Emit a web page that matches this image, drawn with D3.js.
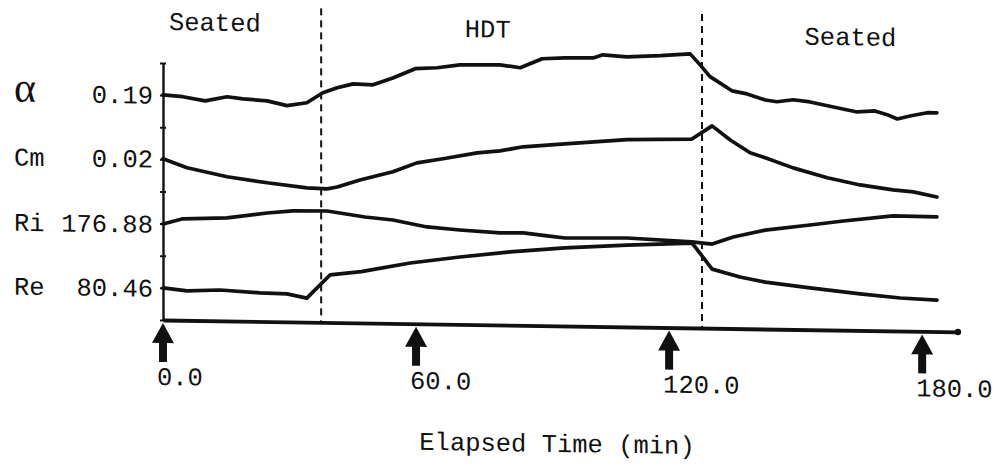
<!DOCTYPE html>
<html>
<head>
<meta charset="utf-8">
<script src="https://cdn.jsdelivr.net/npm/d3@7"></script>
<style>
body { margin: 0; background: #fff; }
text { font-family: "Liberation Mono", "Courier New", monospace; font-size: 25.5px; fill: #111; }
</style>
</head>
<body>
<svg width="997" height="467"></svg>
<script>
// values, y in axis tick units (each trace starts on its own tick)
var alphaData = [[0,7.01],[4.7,6.96],[10,6.84],[15.2,6.98],[19,6.92],[24.7,6.87],[29.4,6.73],[34.1,6.83],[37.9,7.15],[41.3,7.31],[45.1,7.44],[49.8,7.42],[54.5,7.64],[59.8,7.94],[65,7.98],[70.4,8.08],[79.9,8.1],[84.7,8.02],[89.9,8.31],[95.3,8.35],[102,8.36],[104.3,8.46],[110,8.41],[117.9,8.46],[125,8.53],[127.3,8.2],[129.7,7.83],[134.9,7.4],[138.5,7.31],[142.8,7.13],[145.6,7.08],[149.4,7.15],[153.4,7.09],[159.8,6.92],[164.6,6.8],[168.8,6.84],[171.7,6.73],[174.1,6.6],[177.1,6.7],[181.2,6.81],[183.5,6.81]];
var cmData = [[0,5.02],[5.7,4.75],[15.2,4.49],[24.7,4.32],[34.1,4.18],[38.9,4.16],[41.3,4.22],[46.7,4.45],[54.5,4.72],[60.2,5.01],[66.4,5.15],[74.5,5.35],[79.9,5.42],[85.4,5.56],[95.3,5.67],[110,5.83],[125.4,5.88],[130.2,6.3],[134.5,5.87],[139.2,5.48],[142.8,5.33],[149.4,5.03],[157.5,4.74],[165.3,4.53],[173.1,4.39],[177.9,4.34],[183.5,4.19]];
var riData = [[0,2.99],[4.7,3.16],[15.2,3.21],[24.7,3.38],[30.8,3.46],[38.9,3.47],[47.9,3.3],[54.5,3.22],[62.6,3.02],[70.4,2.94],[79.9,2.87],[85.4,2.88],[91.1,2.8],[95.3,2.74],[110,2.77],[125.4,2.68],[130.2,2.62],[135.2,2.85],[142.8,3.08],[153.4,3.26],[161.3,3.4],[173.1,3.58],[183.5,3.57]];
var reData = [[0,1.0],[5.7,0.92],[13.5,0.96],[23,0.89],[29.4,0.87],[34.1,0.75],[39.6,1.48],[47,1.6],[58.6,1.89],[70.4,2.1],[82.3,2.28],[95.3,2.43],[110,2.55],[125.4,2.64],[126.2,2.52],[130.2,1.84],[136.8,1.61],[142.8,1.46],[153.4,1.3],[165.3,1.14],[174.8,1.03],[183.5,0.98]];

var seriesNames = ["α", "Cm", "Ri", "Re"];
var baseLabels = ["0.19", "0.02", "176.88", "80.46"];
var phaseNames = ["Seated", "HDT", "Seated"];
var phaseLabelT = [12.3, 77, 163];
var phaseBreaks = [37.5, 127.8];
var xTicks = [0, 60, 120, 180];

var series = [alphaData, cmData, riData, reData];

var x = d3.scaleLinear().domain([0, 188.5]).range([163, 958]);
var y = d3.scaleLinear().domain([0, 8]).range([320, 63]);

// the scan is slightly sheared: things drift down to the right
var g = d3.select('svg')
  .append('g')
  .attr('transform', 'translate(163,0) skewY(0.86) translate(-163,0)');

//phase separators
g.selectAll('.sep')
  .data(phaseBreaks)
  .enter()
  .append('line')
  .attr('x1', d=>x(d)).attr('x2', d=>x(d))
  .attr('y1', 6).attr('y2', y(0))
  .attr('stroke', '#111')
  .attr('stroke-width', 2)
  .attr('stroke-dasharray', '7,5');

g.selectAll('.phase')
  .data(phaseNames)
  .enter()
  .append('text')
  .attr('x', (d,i)=>x(phaseLabelT[i]))
  .attr('y', (d,i)=>30 + i*2.5)
  .attr('text-anchor', 'middle')
  .text(d=>d);

//y axis
var yAxisGroup = g.append('g')
  .attr('transform', 'translate(' + x(0) + ',0)')
  .call(d3.axisLeft(y).ticks(8).tickSize(6).tickSizeOuter(0).tickFormat(''));
yAxisGroup.select('.domain').attr('stroke', '#111').attr('stroke-width', 2.4);
yAxisGroup.selectAll('.tick line').attr('x1', 3).attr('x2', -3).attr('stroke', '#111').attr('stroke-width', 2);

//x axis
var xAxisGroup = g.append('g')
  .attr('transform', 'translate(0,' + y(0) + ')')
  .call(d3.axisBottom(x).tickValues([]).tickSizeOuter(0));
xAxisGroup.select('.domain').attr('stroke', '#111').attr('stroke-width', 3.8);
xAxisGroup.append('circle').attr('cx', x(188.5)).attr('cy', 0).attr('r', 3.2).attr('fill', '#111');

// arrows instead of ticks
var ticks = g.selectAll('.xt')
  .data(xTicks)
  .enter()
  .append('g')
  .attr('transform', d=>'translate(' + x(d) + ',' + y(0) + ')');
ticks.append('path')
  .attr('d', 'M0,3 L-11,23 L-4,23 L-4,42 L4,42 L4,23 L11,23 Z')
  .attr('fill', '#111');
ticks.append('text')
  .attr('x', -6)
  .attr('y', 65)
  .text(d=>d3.format('.1f')(d));

g.append('text')
  .attr('x', 557)
  .attr('y', 446)
  .attr('text-anchor', 'middle')
  .text('Elapsed Time (min)');

//traces
var line = d3.line().x(d=>x(d[0])).y(d=>y(d[1]));
g.selectAll('.trace')
  .data(series)
  .enter()
  .append('path')
  .attr('d', line)
  .attr('fill', 'none')
  .attr('stroke', '#111')
  .attr('stroke-width', 3.7)
  .attr('stroke-linejoin', 'round')
  .attr('stroke-linecap', 'round');

//row labels at each trace's starting level
g.selectAll('.name')
  .data(seriesNames)
  .enter()
  .append('text')
  .attr('x', 14)
  .attr('y', (d,i)=>y(series[i][0][1]) + 9)
  .style('font-family', (d,i)=>i == 0 ? '"Liberation Serif", serif' : null)
  .style('font-size', (d,i)=>i == 0 ? '42px' : null)
  .text(d=>d);

g.selectAll('.base')
  .data(baseLabels)
  .enter()
  .append('text')
  .attr('x', 153)
  .attr('y', (d,i)=>y(series[i][0][1]) + 9)
  .attr('text-anchor', 'end')
  .text(d=>d);
</script>
</body>
</html>
